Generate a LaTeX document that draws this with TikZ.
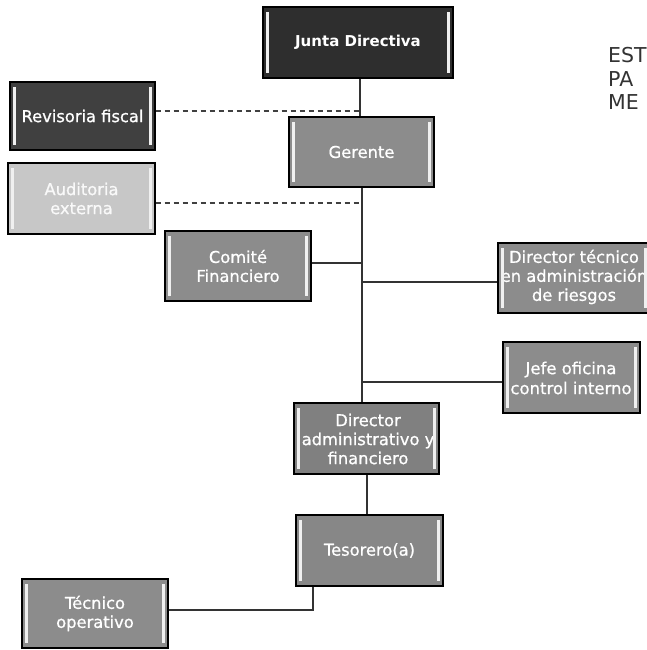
\documentclass[tikz,border=0pt]{standalone}
\usepackage{fontspec}
\setmainfont{DejaVu Sans}
\newfontfamily\boxfont[FakeBold=0.8]{DejaVu Sans}
\begin{document}
\begin{tikzpicture}[x=1pt,y=-1pt,
  box/.style={draw=black, line width=1.3pt, fill=#1, minimum width=145pt, minimum height=70pt,
    inner sep=0pt, text=white, align=center, font=\boxfont\fontsize{16.3}{19}\selectfont},
  box/.default={gray!85!black},
  bar/.style={fill=white!88!gray},
  conn/.style={draw=black!80, line width=1.1pt},
  dconn/.style={draw=black!75, line width=1.1pt, dash pattern=on 5pt off 4pt},
  title/.style={anchor=base west, text=black!80, font=\fontsize{20.5}{20.5}\selectfont, inner sep=0pt}]
\useasboundingbox (0,0) rectangle (647,650);
\begin{scope}
\clip (0,0) rectangle (647,650);
% title
\node[title] (t1) at (608,63) {EST};
\node[title] (t2) at (608,87) {PA};
\node[title] (t3) at (608,110) {ME};
% boxes
\node[box=black!82, minimum width=190pt, minimum height=71pt, font=\bfseries\fontsize{15}{19}\selectfont] (junta) at (358,42.5) {Junta Directiva};
\node[box=black!75, minimum height=68pt] (revisoria) at (82.5,116) {Revisoria fiscal};
\node[box=black!45] (gerente) at (361.5,152) {Gerente};
\node[box=black!22, minimum width=147pt, minimum height=71pt, text=white!95!gray] (auditoria) at (81.5,198.5) {Auditoria\\externa};
\node[box=black!45, minimum width=146pt] (comite) at (238,266) {Comité\\Financiero};
\node[box=black!45, minimum width=152pt] (dirtec) at (574,278) {};
\node[box=black!45, minimum width=137pt, minimum height=71pt] (jefe) at (571.5,377.5) {};
\node[box=black!50, minimum height=71pt] (diradm) at (366.5,438.5) {};
\node[box=black!47, minimum width=147pt, minimum height=71pt] (tesorero) at (369.5,550.5) {Tesorero(a)};
\node[box=black!45, minimum width=146pt, minimum height=69pt] (tecnico) at (95,613.5) {Técnico\\operativo};
% clipped texts
\begin{scope}
\clip (dirtec.south west) rectangle (dirtec.north east);
\node[box, draw=none, fill=none] (dirtecT) at (574,277) {Director técnico\\en administración\\de riesgos};
\end{scope}
\begin{scope}
\clip (jefe.south west) rectangle (jefe.north east);
\node[box, draw=none, fill=none, font=\boxfont\fontsize{16.5}{20}\selectfont] (jefeT) at (571,378) {Jefe oficina\\control interno};
\end{scope}
\begin{scope}
\clip (diradm.south west) rectangle (diradm.north east);
\node[box, draw=none, fill=none] (diradmT) at (368,439) {Director\\administrativo y\\financiero};
\end{scope}
% inner bars
\foreach \n in {junta,revisoria,gerente,auditoria,comite,dirtec,jefe,diradm,tesorero,tecnico}{
  \fill[bar] ([xshift=4pt,yshift=-6pt]\n.north west) rectangle ([xshift=7pt,yshift=6pt]\n.south west);
  \fill[bar] ([xshift=-7pt,yshift=-6pt]\n.north east) rectangle ([xshift=-4pt,yshift=6pt]\n.south east);
}
% connectors
\coordinate (ta) at (360,0);
\coordinate (tb) at (362,0);
\coordinate (tc) at (367,0);
\coordinate (td) at (313,0);
\coordinate (bend) at (313,610);
\draw[conn] (junta.south -| ta) -- (gerente.north -| ta);
\draw[dconn] (revisoria.east |- 0,111) -- (ta |- 0,111);
\draw[dconn] (auditoria.east |- 0,203) -- (tb |- 0,203);
\draw[conn] (gerente.south -| tb) -- (diradm.north -| tb);
\draw[conn] (comite.east |- 0,263) -- (tb |- 0,263);
\draw[conn] (tb |- 0,282) -- (dirtec.west |- 0,282);
\draw[conn] (tb |- 0,382) -- (jefe.west |- 0,382);
\draw[conn] (diradm.south -| tc) -- (tesorero.north -| tc);
\draw[conn] (tesorero.south -| td) -- (bend) -- (tecnico.east |- bend);
\end{scope}
\end{tikzpicture}
\end{document}
